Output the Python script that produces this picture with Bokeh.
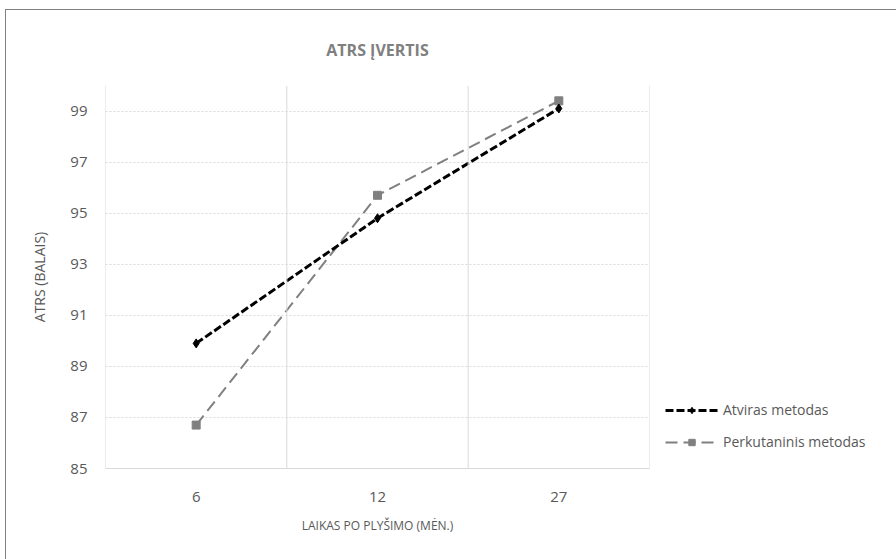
from bokeh.plotting import figure
from bokeh.layouts import row
from bokeh.models import (FactorRange, Range1d, FixedTicker, Span, Legend, LegendItem,
                          ColumnDataSource)
from bokeh.embed import file_html
from bokeh.resources import INLINE

categories = ["6", "12", "27"]
atviras = [89.9, 94.8, 99.1]
perkutaninis = [86.7, 95.7, 99.4]
y_ticks = [85, 87, 89, 91, 93, 95, 97, 99]

title_text = "ATRS ĮVERTIS"
y_label = "ATRS (BALAIS)"
x_label = "LAIKAS PO PLYŠIMO (MĖN.)"
series_names = ["Atviras metodas", "Perkutaninis metodas"]

FONT = "Open Sans"
TXT = "#595959"
GRID = "#d9d9d9"

A_STYLE = dict(line_color="black", line_width=3, line_dash="8 3")
A_MARK = dict(marker="diamond", size=9, fill_color="black", line_color="black")
B_STYLE = dict(line_color="#808080", line_width=2, line_dash="12 6")
B_MARK = dict(marker="square", size=8, fill_color="#808080", line_color="#808080")

p = figure(width=649, height=549, output_backend="svg", toolbar_location=None,
           x_range=FactorRange(*categories, range_padding=0),
           y_range=Range1d(85, 100),
           min_border_left=99, min_border_right=6, min_border_top=75, min_border_bottom=91)
p.outline_line_color = None
p.background_fill_color = "white"
p.border_fill_color = "white"

# title
p.title.text = title_text
p.title.align = "center"
p.title.text_font = FONT
p.title.text_font_size = "16px"
p.title.text_font_style = "bold"
p.title.text_color = "#808080"
p.title.standoff = 50

# y axis
p.yaxis.ticker = FixedTicker(ticks=y_ticks)
p.yaxis.axis_line_color = None
p.yaxis.major_tick_line_color = None
p.yaxis.minor_tick_line_color = None
p.yaxis.major_label_text_font = FONT
p.yaxis.major_label_text_font_size = "15px"
p.yaxis.major_label_text_color = TXT
p.yaxis.major_label_standoff = 12
p.yaxis.axis_label = y_label
p.yaxis.axis_label_text_font = FONT
p.yaxis.axis_label_text_font_size = "14px"
p.yaxis.axis_label_text_font_style = "normal"
p.yaxis.axis_label_text_color = TXT
p.yaxis.axis_label_standoff = 18

# x axis
p.xaxis.axis_line_color = GRID
p.xaxis.axis_line_width = 1
p.xaxis.major_tick_line_color = None
p.xaxis.minor_tick_line_color = None
p.xaxis.major_label_text_font = FONT
p.xaxis.major_label_text_font_size = "15px"
p.xaxis.major_label_text_color = TXT
p.xaxis.major_label_standoff = 17
p.xaxis.axis_label = x_label
p.xaxis.axis_label_text_font = FONT
p.xaxis.axis_label_text_font_size = "12px"
p.xaxis.axis_label_text_font_style = "normal"
p.xaxis.axis_label_text_color = TXT
p.xaxis.axis_label_standoff = 12

# grids
p.xgrid.grid_line_color = None
p.ygrid.ticker = FixedTicker(ticks=y_ticks[1:])
p.ygrid.grid_line_color = GRID
p.ygrid.grid_line_dash = "2 2"
p.ygrid.grid_line_width = 1

# vertical category boundary lines
for i in range(len(categories) + 1):
    p.add_layout(Span(location=i, dimension="height", line_color=GRID, line_width=1))

src = ColumnDataSource(dict(x=categories, a=atviras, b=perkutaninis))

p.line("x", "b", source=src, **B_STYLE)
p.scatter("x", "b", source=src, **B_MARK)
p.line("x", "a", source=src, **A_STYLE)
p.scatter("x", "a", source=src, **A_MARK)

# legend panel (separate figure to the right; its own renderers fall outside its view)
q = figure(width=241, height=549, output_backend="svg", toolbar_location=None,
           x_range=FactorRange(*categories), y_range=Range1d(0, 1),
           min_border=0, x_axis_type=None, y_axis_type=None)
q.outline_line_color = None
q.grid.grid_line_color = None
q.background_fill_color = "white"
q.border_fill_color = "white"
la = q.line("x", "a", source=src, **A_STYLE)
ma = q.scatter("x", "a", source=src, **A_MARK)
lb = q.line("x", "b", source=src, **B_STYLE)
mb = q.scatter("x", "b", source=src, **B_MARK)

legend = Legend(items=[LegendItem(label=series_names[0], renderers=[la, ma]),
                       LegendItem(label=series_names[1], renderers=[lb, mb])],
                location=(10, 17))
legend.border_line_color = None
legend.background_fill_alpha = 0
legend.label_text_font = FONT
legend.label_text_font_size = "14px"
legend.label_text_color = TXT
legend.glyph_width = 53
legend.glyph_height = 16
legend.label_height = 16
legend.spacing = 13
legend.padding = 0
legend.margin = 0
legend.label_standoff = 5
q.add_layout(legend, "center")

layout = row(p, q)
layout.margin = (10, 0, 0, 6)
layout.styles = {"outline": "1px solid #808080"}

open("out.html", "w").write(file_html(layout, INLINE))
